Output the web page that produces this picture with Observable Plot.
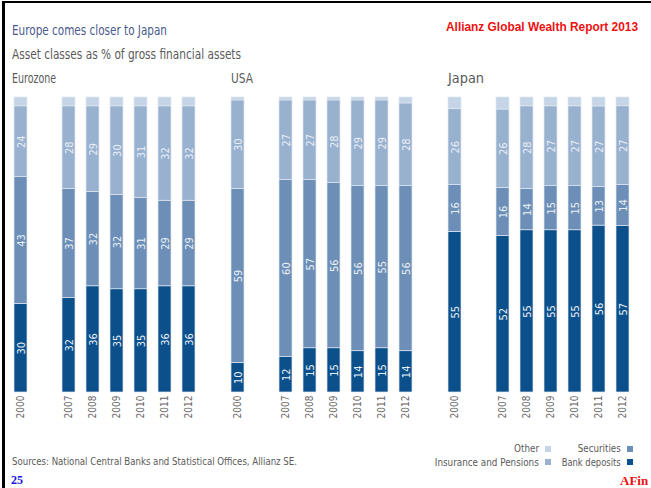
<!DOCTYPE html>
<html>
<head>
<meta charset="utf-8">
<script src="https://cdn.jsdelivr.net/npm/d3@7"></script>
<script src="https://cdn.jsdelivr.net/npm/@observablehq/plot@0.6"></script>
<style>
  html, body { margin: 0; padding: 0; background: #fff; }
  #wrap { position: relative; width: 651px; height: 488px; overflow: hidden; background: #fff; }
  .t { position: absolute; white-space: nowrap; font-family: "Liberation Sans Narrow", "DejaVu Sans Condensed", "Liberation Sans", sans-serif; display: inline-block; }
  .sq { position: absolute; width: 6px; height: 6px; }
</style>
</head>
<body>
<div id="wrap">
  <div style="position:absolute;left:2px;top:1px;width:700px;height:600px;border-left:3px solid #000;border-top:2px solid #000;"></div>
  <div class="t" id="title" style="left:12px;top:23px;font-size:14px;line-height:14px;color:#4a5a8e;">Europe comes closer to Japan</div>
  <div class="t" id="subtitle" style="left:12px;top:47px;font-size:14px;line-height:14px;color:#5a5a5a;">Asset classes as % of gross financial assets</div>
  <div class="t" id="p0" style="left:12px;top:71px;font-size:14px;line-height:14px;color:#5a5a5a;">Eurozone</div>
  <div class="t" id="p1" style="left:231px;top:71px;font-size:14px;line-height:14px;color:#5a5a5a;">USA</div>
  <div class="t" id="p2" style="left:448px;top:71px;font-size:14px;line-height:14px;color:#5a5a5a;">Japan</div>
  <div class="t" id="red" style="left:446px;top:20px;font-size:13px;line-height:13px;color:#ee1111;font-weight:bold;font-family:'Liberation Sans','DejaVu Sans',sans-serif;">Allianz Global Wealth Report 2013</div>
  <div id="chart" style="position:absolute;left:0;top:90px;"></div>
  <div class="t" id="src" style="left:12px;top:456px;font-size:11px;line-height:11px;color:#5a5a5a;">Sources: National Central Banks and Statistical Offices, Allianz SE.</div>
  <div id="legend"></div>
  <div class="t" style="left:11px;top:474px;font-size:12px;line-height:12px;color:#1515e0;font-weight:bold;font-family:'Liberation Serif','DejaVu Serif',serif;">25</div>
  <div class="t" style="left:620px;top:474px;font-size:13px;line-height:13px;color:#ee1111;font-weight:bold;font-family:'Liberation Serif','DejaVu Serif',serif;">AFin</div>
</div>
<script>
// ---- data ----
const regions = ["Eurozone", "USA", "Japan"];
const years = ["2000", "2007", "2008", "2009", "2010", "2011", "2012"];
const series = ["Bank deposits", "Securities", "Insurance and Pensions", "Other"];

const eurozoneBank = [30, 32, 36, 35, 35, 36, 36];
const eurozoneSecurities = [43, 37, 32, 32, 31, 29, 29];
const eurozoneInsurance = [24, 28, 29, 30, 31, 32, 32];
const eurozoneOther = [3, 3, 3, 3, 3, 3, 3];

const usaBank = [10, 12, 15, 15, 14, 15, 14];
const usaSecurities = [59, 60, 57, 56, 56, 55, 56];
const usaInsurance = [30, 27, 27, 28, 29, 29, 28];
const usaOther = [1, 1, 1, 1, 1, 1, 2];

const japanBank = [55, 52, 55, 55, 55, 56, 57];
const japanSecurities = [16, 16, 14, 15, 15, 13, 14];
const japanInsurance = [26, 26, 28, 27, 27, 27, 27];
const japanOther = [4, 4, 3, 3, 3, 3, 3];

const colors = ["#0b4f8b", "#6d8fb7", "#98b1cf", "#c5d4e6"];

// build table
const table = {
  Eurozone: [eurozoneBank, eurozoneSecurities, eurozoneInsurance, eurozoneOther],
  USA: [usaBank, usaSecurities, usaInsurance, usaOther],
  Japan: [japanBank, japanSecurities, japanInsurance, japanOther]
};
const data = [];
for (const r of regions) {
  years.forEach((y, i) => {
    series.forEach((s, k) => data.push({region: r, year: y, series: s, value: table[r][k][i]}));
  });
}
const xDomain = ["2000", "gap", "2007", "2008", "2009", "2010", "2011", "2012"];
const FONT = '"Liberation Sans Narrow", "DejaVu Sans Condensed", "Liberation Sans", sans-serif';

const chart = Plot.plot({
  width: 651,
  height: 330,
  marginTop: 7,
  marginBottom: 28,
  marginLeft: 7,
  marginRight: 15,
  style: {fontFamily: FONT, background: "transparent", color: "#666", fontSize: "10px"},
  fx: {domain: regions, paddingInner: 0.111, paddingOuter: 0, axis: null, label: null},
  x: {domain: xDomain, paddingInner: 0.45, paddingOuter: 0.225, tickRotate: -90, tickSize: 0, tickPadding: 3,
      tickFormat: d => years.includes(d) ? d : "", label: null},
  y: {domain: [0, 1], axis: null},
  color: {domain: series, range: colors},
  marks: [
    Plot.barY(data, Plot.stackY({offset: "normalize", x: "year", y: "value", fx: "region", fill: "series",
      stroke: "#dfe7f1", strokeWidth: 0.7})),
    Plot.text(data, Plot.stackY({offset: "normalize", x: "year", y: "value", fx: "region",
      text: d => d.series === "Other" ? null : String(d.value),
      rotate: -90, fill: "#e9eff6", fontSize: 11}))
  ]
});
document.getElementById("chart").appendChild(chart);

// fit widths
function fitEl(el, w, origin) {
  const r = el.getBoundingClientRect().width;
  el.style.transformOrigin = origin || "left center";
  el.style.transform = `scaleX(${w / r})`;
}
function fit(id, w, origin) { fitEl(document.getElementById(id), w, origin); }

// legend
const legendItems = [
  {label: "Other", k: 3, right: 539, width: 25, sq: 545, cy: 448.5},
  {label: "Securities", k: 1, right: 621, width: 43, sq: 627, cy: 448.5},
  {label: "Insurance and Pensions", k: 2, right: 539, width: 104, sq: 545, cy: 462},
  {label: "Bank deposits", k: 0, right: 621, width: 59, sq: 627, cy: 462}
];
const leg = document.getElementById("legend");
for (const it of legendItems) {
  const t = document.createElement("div");
  t.className = "t";
  t.textContent = it.label;
  t.style.cssText = `right:${651 - it.right}px;top:${it.cy - 5.5}px;font-size:11px;line-height:11px;color:#5a5a5a;`;
  leg.appendChild(t);
  fitEl(t, it.width, "right center");
  const s = document.createElement("div");
  s.className = "sq";
  s.style.cssText = `left:${it.sq}px;top:${it.cy - 3}px;background:${colors[it.k]};`;
  leg.appendChild(s);
}

fit("title", 155);
fit("subtitle", 229);
fit("p0", 44);
fit("p1", 22);
fit("p2", 36);
fit("red", 192);
fit("src", 285);
</script>
</body>
</html>
